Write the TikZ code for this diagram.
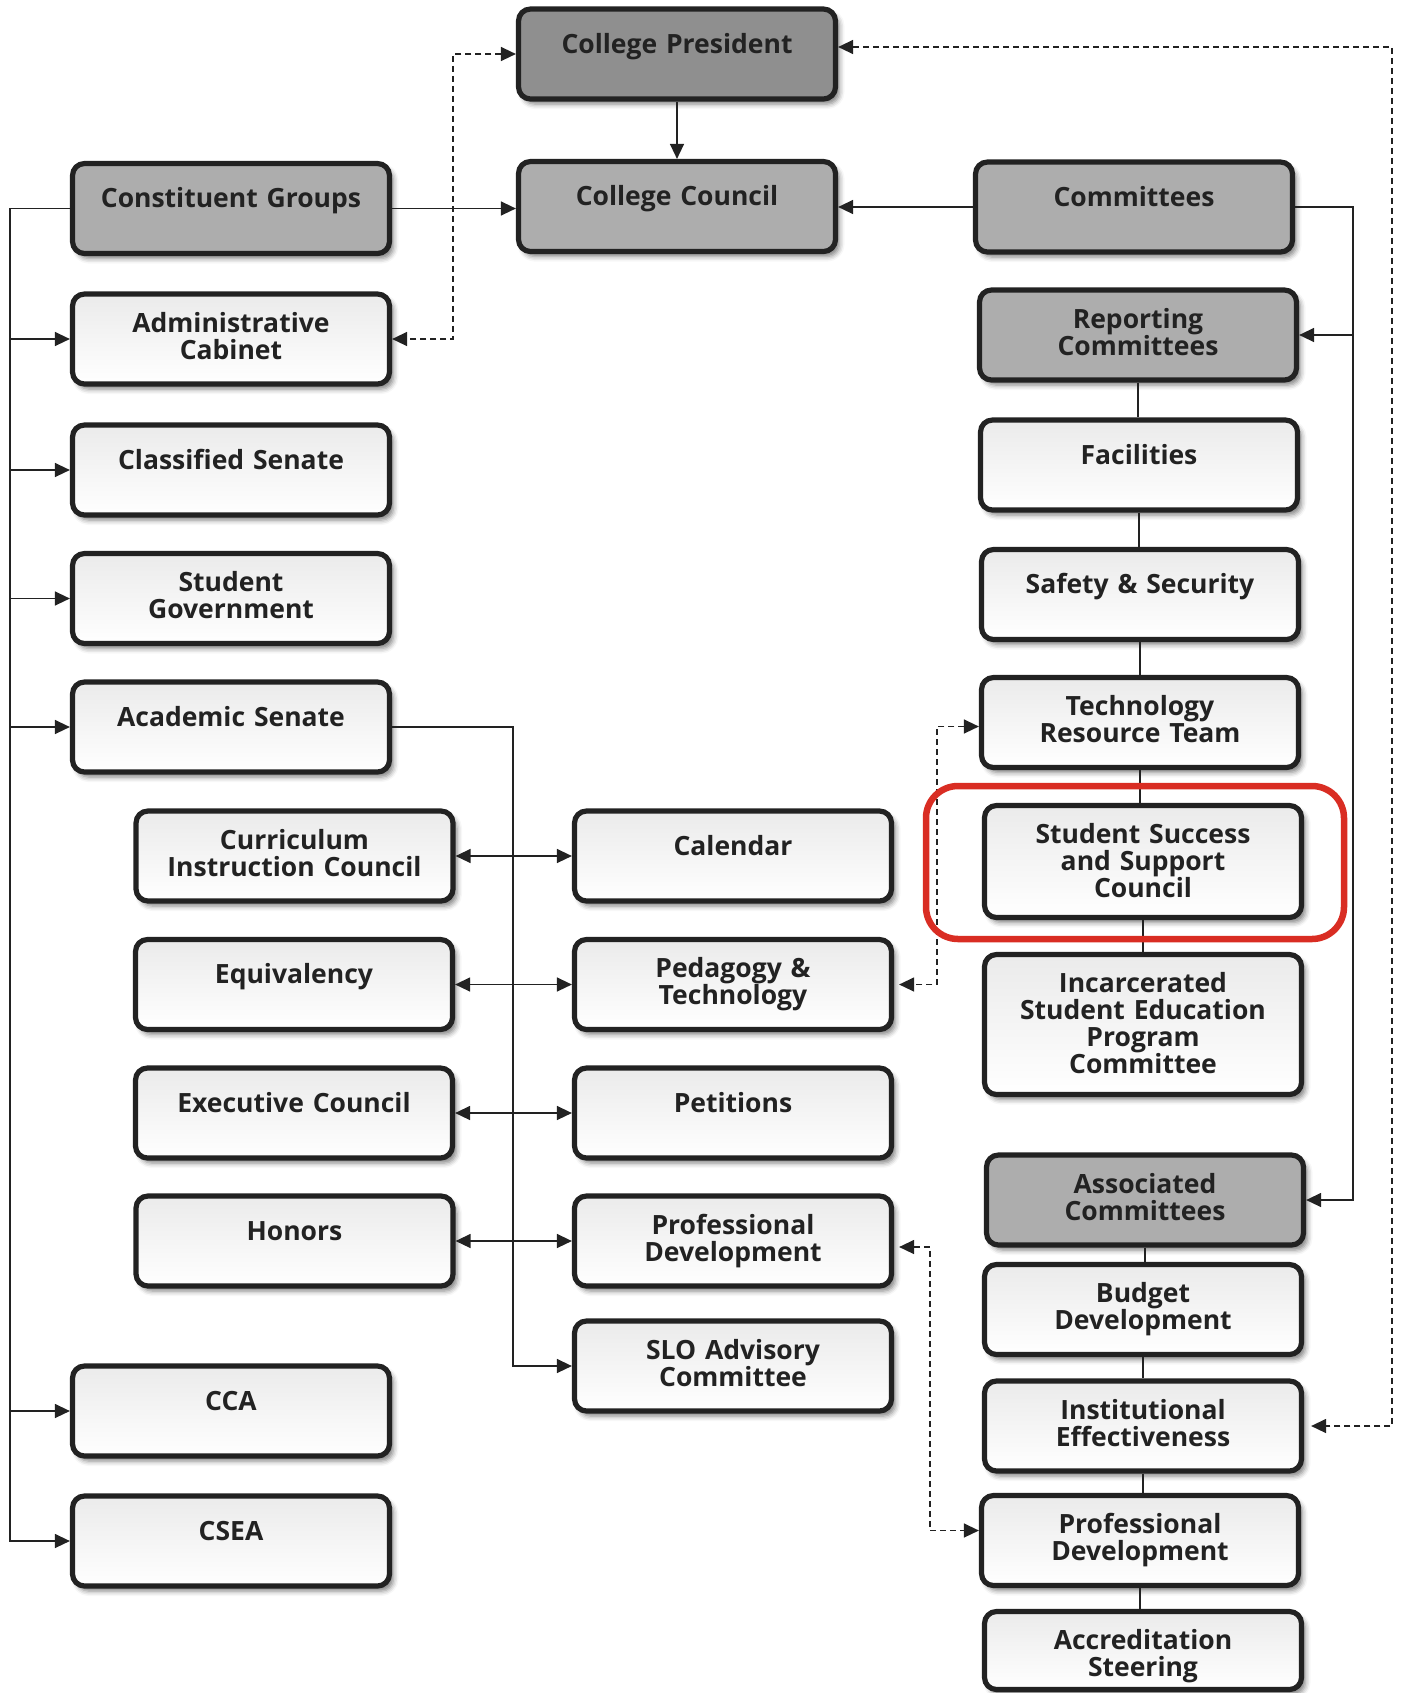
\documentclass[tikz,border=0pt]{standalone}
\usepackage{fontspec}
\setmainfont{Open Sans}
\usetikzlibrary{arrows.meta,shadows.blur}
\definecolor{ink}{RGB}{34,34,34}
\definecolor{hired}{RGB}{217,45,35}

\begin{document}
\begin{tikzpicture}[x=0.5pt,y=-0.5pt,
	unit/.style={rectangle,rounded corners=6pt,draw=ink,line width=2.6pt,
		text=ink,font=\bfseries\fontsize{13.25pt}{13.5pt}\selectfont,
		text width=158.5pt,align=center,inner sep=0pt,
		text height=19.2pt,text depth=25.8pt,
		blur shadow={shadow xshift=2pt,shadow yshift=-2.5pt,shadow blur radius=2.5pt,shadow opacity=50}},
	pnode/.style={unit,top color=black!8,middle color=white,bottom color=white},
	gnode/.style={unit,fill=black!32},
	rootnode/.style={unit,fill=black!44},
	oneline/.style={text height=22.2pt,text depth=22.8pt},
	link/.style={draw=ink,line width=0.7pt},
	arr/.style={link,-{Triangle[length=7.5pt,width=7pt]}},
	dbl/.style={link,{Triangle[length=7.5pt,width=7pt]}-{Triangle[length=7.5pt,width=7pt]}},
	dlink/.style={dbl,dash pattern=on 3pt off 2pt},
	hilite/.style={draw=hired,line width=3.25pt,rounded corners=16pt},
	]
	\useasboundingbox (0,0) rectangle (1408,1693);
	%top row
	\node[rootnode,oneline] (cp) at (677,54) {College President};
	\node[gnode,oneline] (cc) at (677,206.5) {College Council};
	\node[gnode,oneline] (cg) at (231,208.5) {Constituent Groups};
	\node[gnode,oneline] (cm) at (1134,207) {Committees};
	%constituent groups
	\node[pnode] (ac) at (231,339) {Administrative\\Cabinet};
	\node[pnode,oneline] (cs) at (231,470) {Classified Senate};
	\node[pnode] (sg) at (231,598.5) {Student\\Government};
	\node[pnode,oneline] (as) at (231,727) {Academic Senate};
	\node[pnode] (cic) at (294.5,856) {Curriculum\\Instruction Council};
	\node[pnode,oneline] (eq) at (294,984.5) {Equivalency};
	\node[pnode,oneline] (ec) at (294,1113) {Executive Council};
	\node[pnode,oneline] (ho) at (294.5,1241) {Honors};
	\node[pnode,oneline] (cca) at (231,1411) {CCA};
	\node[pnode,oneline] (csea) at (231,1541) {CSEA};
	%senate committees
	\node[pnode,oneline] (cal) at (733,856) {Calendar};
	\node[pnode] (pt) at (733,984.5) {Pedagogy \&\\Technology};
	\node[pnode,oneline] (pet) at (733,1113) {Petitions};
	\node[pnode] (pdm) at (733,1241) {Professional\\Development};
	\node[pnode] (slo) at (733,1366) {SLO Advisory\\Committee};
	%committees
	\node[gnode] (rc) at (1138,335) {Reporting\\Committees};
	\node[pnode,oneline] (fac) at (1139,465) {Facilities};
	\node[pnode,oneline] (saf) at (1140,594.5) {Safety \& Security};
	\node[pnode] (trt) at (1140,722.5) {Technology\\Resource Team};
	\node[pnode,text depth=36.8pt] (sssc) at (1143,861.5) {Student Success\\and Support\\Council};
	\node[pnode,text depth=50.8pt] (isep) at (1143,1024.5) {Incarcerated\\Student Education\\Program\\Committee};
	\node[gnode] (asc) at (1145,1200) {Associated\\Committees};
	\node[pnode] (bd) at (1143,1309.5) {Budget\\Development};
	\node[pnode] (ie) at (1143,1426) {Institutional\\Effectiveness};
	\node[pnode] (pdr) at (1140,1540.5) {Professional\\Development};
	\node[pnode,text depth=19.8pt] (acs) at (1143,1650.5) {Accreditation\\Steering};

	\coordinate (lb) at (10,0);
	\coordinate (mb) at (513,0);
	\coordinate (rb) at (1353,0);
	\coordinate (dl) at (453,0);
	\coordinate (dr) at (1392,0);
	\coordinate (dt) at (937,0);
	\coordinate (dp) at (930,0);
	\coordinate (pdrin) at ([yshift=5pt]pdr.west);

	\draw[arr] (cp.south) -- (cc.north);
	\draw[arr] (cg.east) -- (cg.east -| cc.west);
	\draw[arr] (cm.west) -- (cm.west -| cc.east);
	\draw[arr] (cg.west) -| (lb |- csea.west) -- (csea.west);
	\foreach \n in {ac,cs,sg,as,cca}
		\draw[arr] (lb |- \n.west) -- (\n.west);
	\draw[arr] (as.east) -| (mb |- slo.west) -- (slo.west);
	\foreach \a/\b in {cic/cal,eq/pt,ec/pet,ho/pdm}
		\draw[dbl] (\a.east) -- (\b.west);
	\draw[arr] (cm.east) -| (rb |- asc.east) -- (asc.east);
	\draw[arr] (rb |- rc.east) -- (rc.east);
	\foreach \a/\b in {rc/fac,fac/saf,saf/trt,trt/sssc,sssc/isep,asc/bd,bd/ie,ie/pdr,pdr/acs}
		\draw[link] (\a.south) -- (\a.south |- \b.north);
	%dashed links
	\draw[dlink] (cp.west) -| (dl |- ac.east) -- (ac.east);
	\draw[dlink] ([yshift=3.5pt]cp.east) -| (dr |- ie.east) -- ([xshift=3.5pt]ie.east);
	\draw[dlink] ([yshift=-2pt]trt.west) -| (dt |- pt.east) -- ([xshift=2.5pt]pt.east);
	\draw[dlink] ([xshift=2.5pt,yshift=-3pt]pdm.east) -| (dp |- pdrin) -- (pdrin);

	\draw[hilite] (926,786) rectangle (1344,939);
\end{tikzpicture}
\end{document}
